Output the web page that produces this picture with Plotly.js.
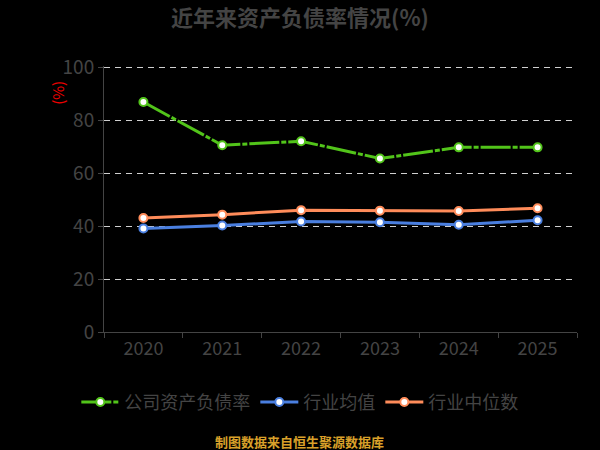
<!DOCTYPE html>
<html>
<head>
<meta charset="utf-8">
<script src="https://cdn.plot.ly/plotly-3.0.1.min.js"></script>
<style>
  body { margin: 0; background: #000; }
  #chart { width: 600px; height: 450px; }
</style>
</head>
<body>
<div id="chart"></div>
<script>
// years on the x axis
var years = ['2020', '2021', '2022', '2023', '2024', '2025'];
// 公司资产负债率 (%)
var companyRatio = [86.8, 70.5, 72.0, 65.5, 69.7, 69.7];
// 行业均值 (%)
var industryMean = [39.1, 40.2, 41.7, 41.4, 40.5, 42.2];
// 行业中位数 (%)
var industryMedian = [43.0, 44.3, 46.0, 45.8, 45.7, 46.7];

var seriesNames = ['公司资产负债率', '行业均值', '行业中位数'];
var seriesColors = ['#52c41a', '#4a7fe0', '#ff8c5a'];

function makeTrace(vals, i, dash) {
  return {
    x: years,
    y: vals,
    name: seriesNames[i],
    type: 'scatter',
    mode: 'lines+markers',
    line: {color: seriesColors[i], width: 3, dash: dash},
    marker: {size: 8, color: '#fff', line: {color: seriesColors[i], width: 2}},
    hoverinfo: 'x+y+name'
  };
}

var data = [
  makeTrace(companyRatio, 0, '30px,2px,5px,2px'),
  makeTrace(industryMean, 1, 'solid'),
  makeTrace(industryMedian, 2, 'solid')
];

var layout = {
  width: 600,
  height: 450,
  paper_bgcolor: '#000',
  plot_bgcolor: '#000',
  font: {family: '"Noto Sans CJK SC", "Noto Sans", sans-serif', color: '#444'},
  margin: {l: 104, r: 23, t: 66, b: 118},
  title: {
    text: '<b>近年来资产负债率情况(%)</b>',
    font: {size: 22, color: '#444'},
    x: 0.5, xref: 'container', xanchor: 'center',
    y: 0.96, yref: 'container', yanchor: 'middle'
  },
  xaxis: {
    type: 'category',
    range: [-0.5, 5.5],
    showline: true, linecolor: '#444', linewidth: 1,
    ticks: 'outside', tickson: 'boundaries', ticklen: 5, tickcolor: '#444',
    showgrid: false, zeroline: false,
    tickfont: {size: 18, color: '#444'}
  },
  yaxis: {
    range: [0, 100.4],
    tickvals: [0, 20, 40, 60, 80, 100],
    showline: true, linecolor: '#444', linewidth: 1,
    ticks: 'outside', ticklen: 5, tickcolor: '#444',
    showgrid: true, gridcolor: '#d0d0d0', griddash: '6px,5px', gridwidth: 1,
    zeroline: false,
    tickfont: {size: 19, color: '#444'}
  },
  showlegend: true,
  legend: {
    orientation: 'h',
    x: 0.414, xanchor: 'center',
    y: -0.264, yanchor: 'middle',
    font: {size: 18, color: '#444'},
    itemwidth: 38,
    bgcolor: 'rgba(0,0,0,0)'
  },
  annotations: [
    {
      text: '(%)', textangle: -90,
      xref: 'paper', yref: 'paper', x: -0.099, y: 0.90,
      xanchor: 'center', yanchor: 'middle',
      showarrow: false, font: {size: 15, color: '#ee0000'}
    },
    {
      text: '<b>制图数据来自恒生聚源数据库</b>',
      xref: 'paper', yref: 'paper', x: 0.414, y: -0.411,
      xanchor: 'center', yanchor: 'middle',
      showarrow: false, font: {size: 13, color: '#d9a02a'}
    }
  ]
};

Plotly.newPlot('chart', data, layout, {displayModeBar: false});
</script>
</body>
</html>
